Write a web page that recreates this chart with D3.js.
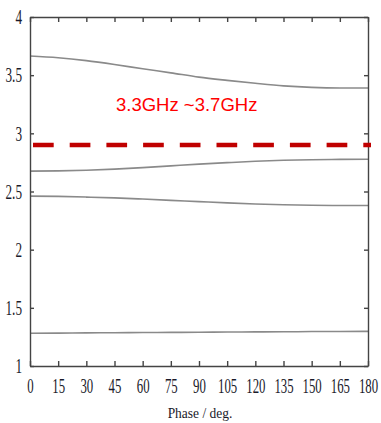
<!DOCTYPE html>
<html>
<head>
<meta charset="utf-8">
<script src="https://cdn.jsdelivr.net/npm/d3@7"></script>
<style>
  body { margin: 0; background: #fff; }
  .tick text { font-family: "Liberation Serif", serif; font-size: 20px; fill: #1a1a2a; }
</style>
</head>
<body>
<script>
// phase values (deg)
var phase = [0, 15, 30, 45, 60, 75, 90, 105, 120, 135, 150, 165, 180];

// dispersion curves (GHz)
var mode1 = [1.282, 1.283, 1.285, 1.286, 1.288, 1.289, 1.290, 1.292, 1.293, 1.294, 1.296, 1.297, 1.298];
var mode2 = [2.460, 2.458, 2.452, 2.445, 2.435, 2.424, 2.413, 2.402, 2.393, 2.386, 2.382, 2.380, 2.380];
var mode3 = [2.675, 2.677, 2.683, 2.692, 2.705, 2.720, 2.735, 2.748, 2.760, 2.768, 2.773, 2.776, 2.777];
var mode4 = [3.665, 3.650, 3.625, 3.592, 3.555, 3.520, 3.483, 3.455, 3.430, 3.408, 3.395, 3.390, 3.390];
var modes = [mode1, mode2, mode3, mode4];

// band marker
var bandLevel = 2.9;
var bandLabel = "3.3GHz ~3.7GHz";

// tick values
var xTicks = phase;
var yTicks = [1, 1.5, 2, 2.5, 3, 3.5, 4];

var width = 381,
    height = 423;

var svg = d3.select("body")
    .append("svg")
    .attr("width", width)
    .attr("height", height);

svg.append("rect")
    .attr("width", width)
    .attr("height", height)
    .attr("fill", "#fff");

var x = d3.scaleLinear().domain([0, 180]).range([30, 368]);
var y = d3.scaleLinear().domain([1, 4]).range([366, 17]);

//curves
var line = d3.line()
    .x(function(d, i){ return x(phase[i]); })
    .y(function(d){ return y(d); })
    .curve(d3.curveMonotoneX);

svg.selectAll(".mode")
    .data(modes)
    .enter()
    .append("path")
    .attr("class", "mode")
    .attr("d", line)
    .attr("fill", "none")
    .attr("stroke", "#8a8a8a")
    .attr("stroke-width", 1.6);

//axes, ticks pointing inward
var bottom = svg.append("g")
    .attr("transform", "translate(0," + y(1) + ")")
    .call(d3.axisBottom(x).tickValues(xTicks).tickSize(-5).tickSizeOuter(0).tickFormat(function(d){ return d; }));
bottom.selectAll("text")
    .attr("y", 0)
    .attr("dy", null)
    .attr("transform", "translate(0,26.5) scale(0.64,1)");

var left = svg.append("g")
    .attr("transform", "translate(" + x(0) + ",0)")
    .call(d3.axisLeft(y).tickValues(yTicks).tickSize(-4).tickSizeOuter(0).tickFormat(function(d){ return d; }));
left.selectAll("text")
    .attr("x", 0)
    .attr("dy", "0.34em")
    .attr("transform", "translate(-8,0) scale(0.66,1)");

svg.append("g")
    .attr("transform", "translate(0," + y(4) + ")")
    .call(d3.axisTop(x).tickValues(xTicks).tickSize(-5).tickSizeOuter(0).tickFormat(""));

svg.append("g")
    .attr("transform", "translate(" + x(180) + ",0)")
    .call(d3.axisRight(y).tickValues(yTicks).tickSize(-4).tickSizeOuter(0).tickFormat(""));

svg.selectAll(".domain, .tick line")
    .attr("stroke", "#444")
    .attr("stroke-width", 1.4);

//band threshold line
svg.append("line")
    .attr("x1", x(0) + 3)
    .attr("x2", x(180) + 3)
    .attr("y1", y(bandLevel))
    .attr("y2", y(bandLevel))
    .attr("stroke", "#c00000")
    .attr("stroke-width", 4.5)
    .attr("stroke-dasharray", "20.7,16");

svg.append("text")
    .attr("x", 116)
    .attr("y", 111)
    .attr("fill", "#ff0000")
    .style("font-family", "Liberation Sans, sans-serif")
    .style("font-size", "18.5px")
    .text(bandLabel);

//x axis title
svg.append("text")
    .attr("transform", "translate(200,418) scale(0.87,1)")
    .attr("text-anchor", "middle")
    .attr("fill", "#1a1a2a")
    .style("font-family", "Liberation Serif, serif")
    .style("font-size", "15.5px")
    .text("Phase / deg.");
</script>
</body>
</html>
